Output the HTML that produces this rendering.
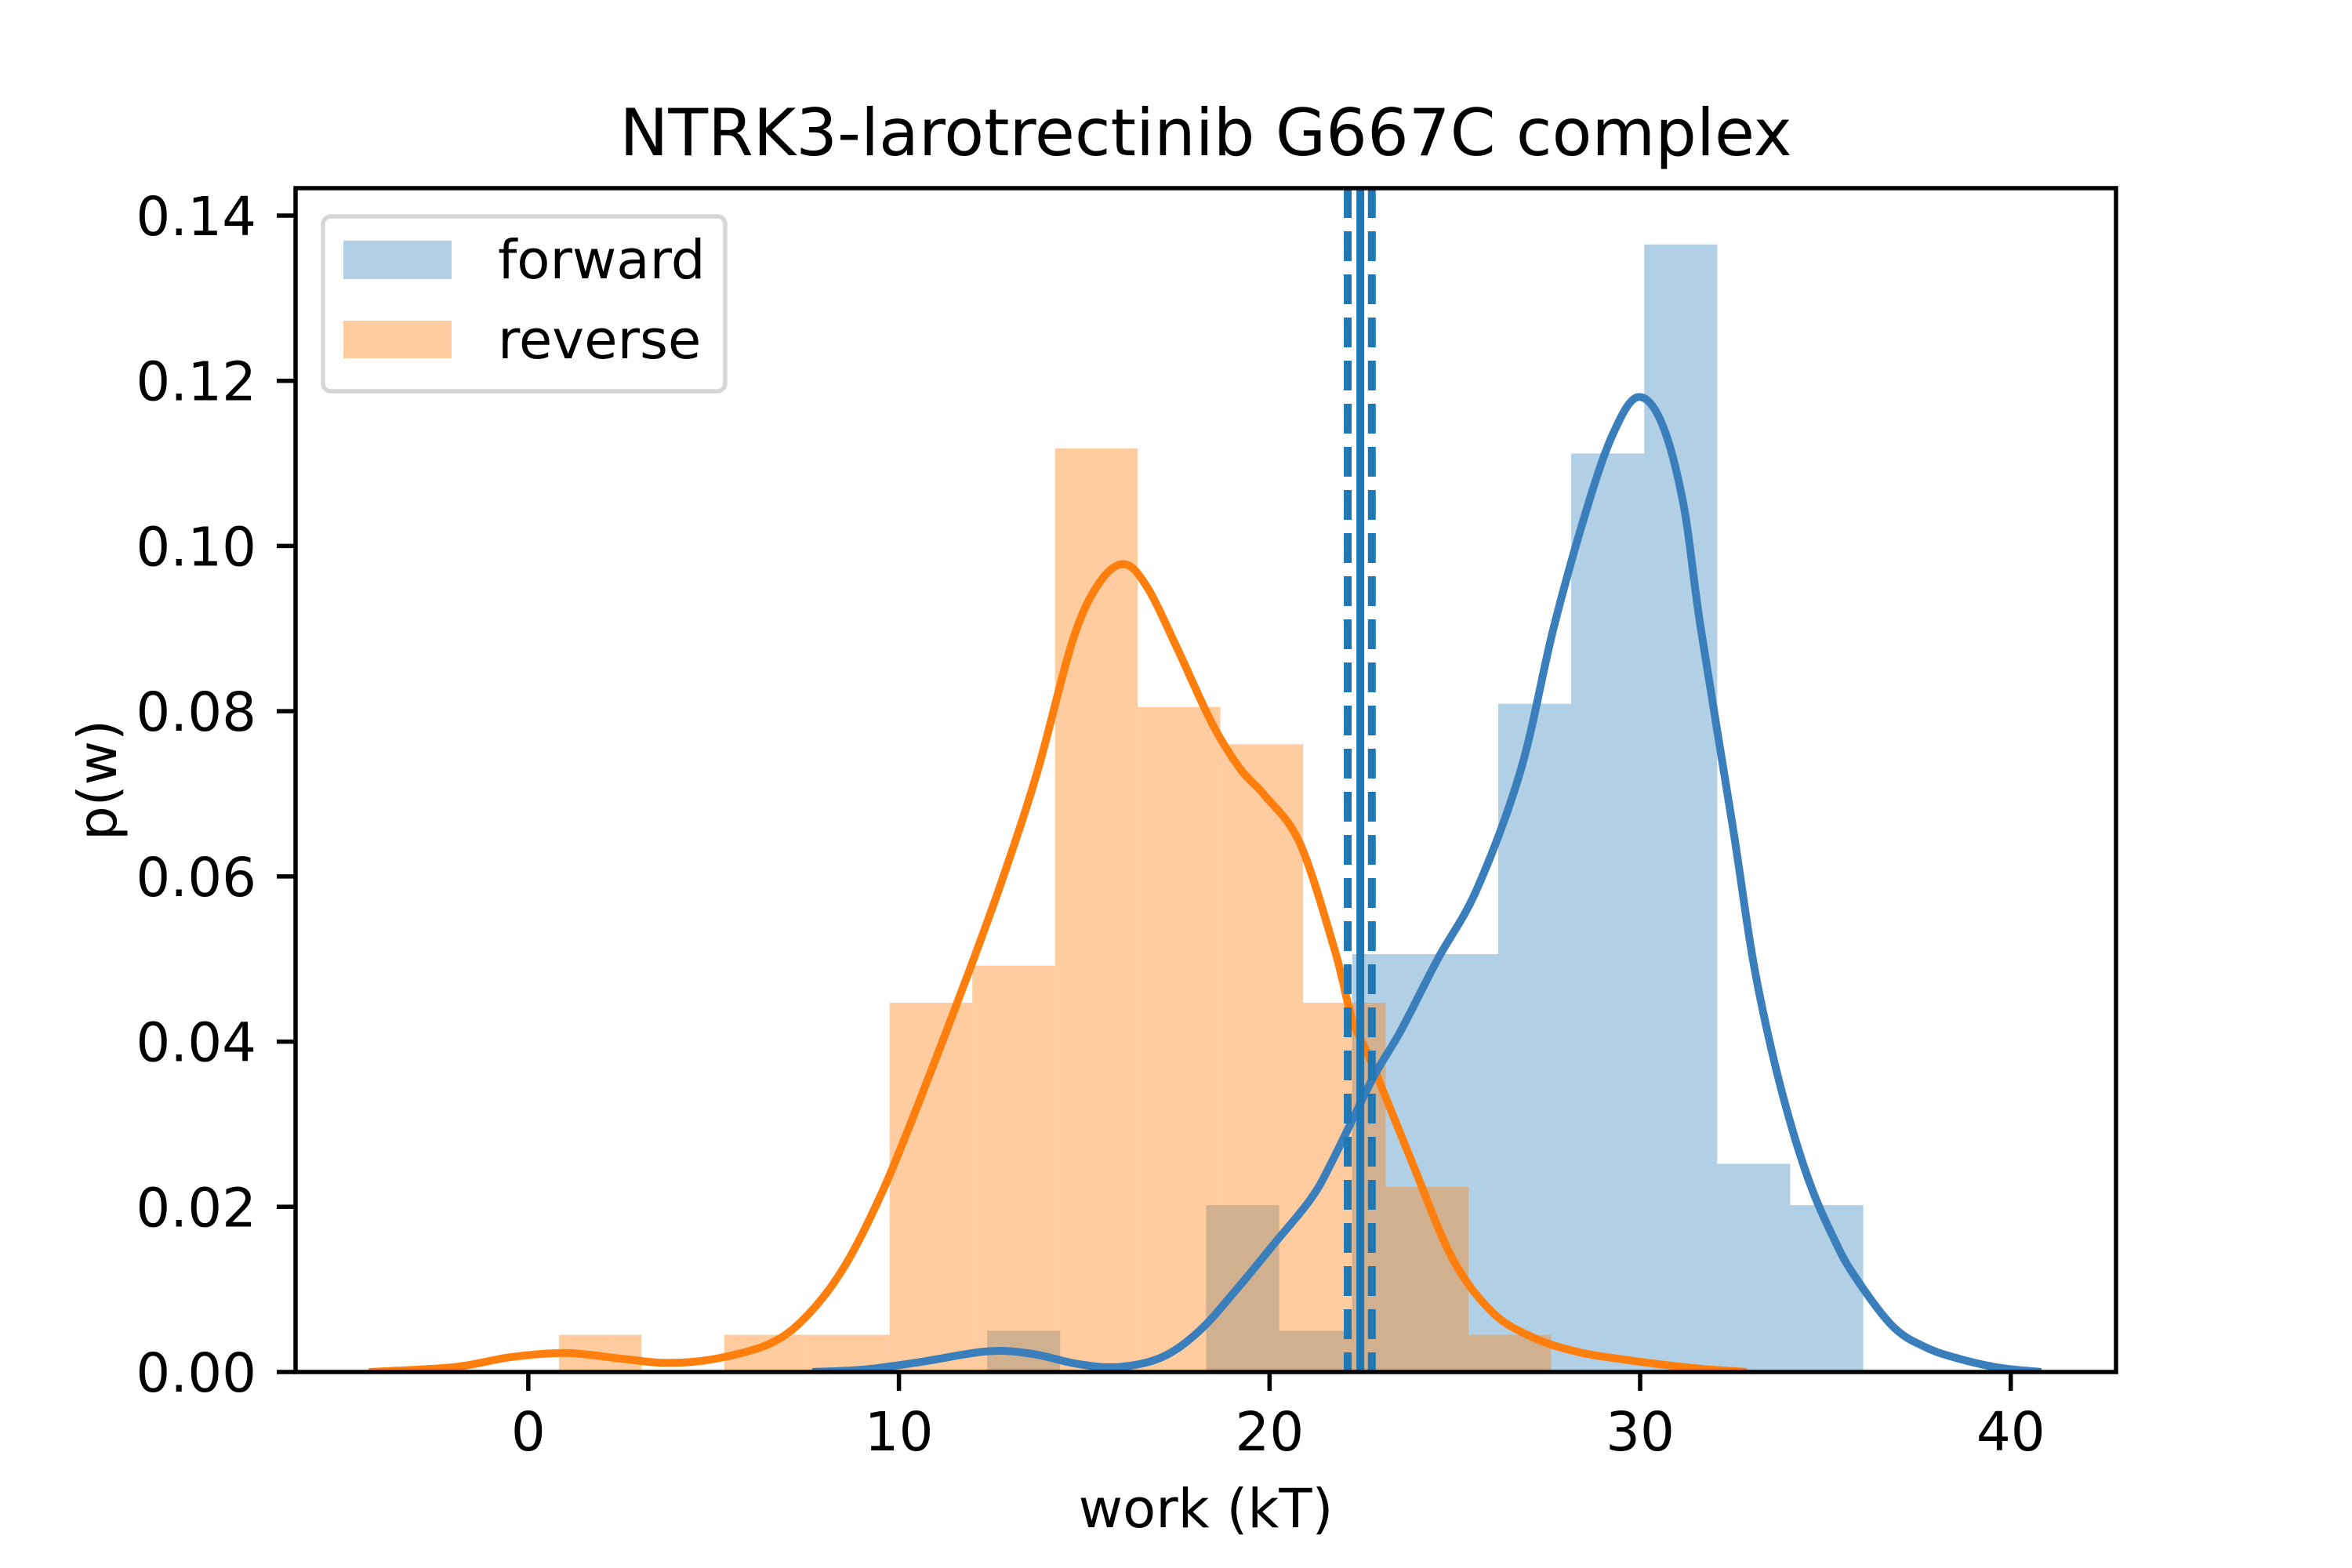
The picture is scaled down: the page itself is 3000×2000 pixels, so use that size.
<!DOCTYPE html>
<html><head><meta charset="utf-8"><style>
html,body{margin:0;padding:0;background:#fff;}
svg{display:block;font-family:"DejaVu Sans","Liberation Sans",sans-serif;}
</style></head><body>
<svg id="chart" width="3000" height="2000" viewBox="0 0 3000 2000" xmlns="http://www.w3.org/2000/svg">
<rect width="3000" height="2000" fill="#fff"/>
<g id="plot"></g>
</svg>
<script>
const fwdStart = 12.38, fwdWidth = 1.97;
const fwdValues = [0.005, 0, 0, 0.0202, 0.005, 0.0506, 0.0506, 0.0809, 0.1112, 0.1365, 0.0252, 0.0202];
const revStart = 0.825, revWidth = 2.231;
const revValues = [0.0045, 0, 0.0045, 0.0045, 0.0447, 0.0492, 0.1118, 0.0805, 0.076, 0.0447, 0.0224, 0.0045];
const fwdKdeX = [7.66,9.07,10.57,12.38,13.59,14.79,15.9,17.1,18.11,19.11,20.12,21.12,21.71,22.78,23.54,24.54,25.6,26.78,27.66,28.56,29.26,29.92,30.57,31.17,31.63,32.5,33.04,33.57,34.13,34.65,35.19,35.73,36.8,37.7,38.61,39.71,40.82];
const fwdKdeY = [0,0.0003,0.0012,0.0025,0.0022,0.001,0.0006,0.0018,0.005,0.01,0.0155,0.021,0.0257,0.0355,0.0413,0.05,0.0585,0.0729,0.090,0.1045,0.1135,0.118,0.115,0.105,0.0902,0.066,0.05,0.0385,0.029,0.022,0.0165,0.012,0.0056,0.003,0.0016,0.0005,0];
const revKdeX = [-4.3,-1.99,-0.48,1.03,2.53,3.74,5.05,6.55,7.56,8.56,9.57,10.57,11.85,12.78,13.73,14.69,15.4,16.08,16.7,17.51,18.45,19.21,19.87,20.82,21.77,22.23,22.78,23.87,24.94,26.02,27.1,28.16,29.26,31.37,32.88];
const revKdeY = [0,0.0006,0.0018,0.0023,0.0016,0.0011,0.0016,0.0035,0.007,0.013,0.022,0.033,0.048,0.0595,0.0726,0.0886,0.0955,0.0978,0.095,0.0876,0.0785,0.073,0.0698,0.064,0.0509,0.0427,0.0372,0.0251,0.0137,0.0072,0.0042,0.0026,0.0017,0.0005,0];
const vlineSolid = 22.45;
const vlineDashed = [22.11, 22.76];
const xTicks = [0, 10, 20, 30, 40];
const yTicks = [0, 0.02, 0.04, 0.06, 0.08, 0.10, 0.12, 0.14];
const yTickLabels = ["0.00","0.02","0.04","0.06","0.08","0.10","0.12","0.14"];

const L=377,R=2699,T=240,B=1750;
const xMin=-6.28,xMax=42.84,yMax=0.14332;
const sx=v=>L+(v-xMin)/(xMax-xMin)*(R-L);
const sy=v=>B-v/yMax*(B-T);
const NS="http://www.w3.org/2000/svg";
const g=document.getElementById('plot');
function mk(tag,attrs,parent){const e=document.createElementNS(NS,tag);for(const k in attrs)e.setAttribute(k,attrs[k]);(parent||g).appendChild(e);return e;}

const clip=mk('clipPath',{id:'ax'});mk('rect',{x:L,y:T,width:R-L,height:B-T},clip);
const inner=mk('g',{'clip-path':'url(#ax)'});



fwdValues.forEach((v,i)=>{ if(v<=0)return;
  const x0=sx(fwdStart+i*fwdWidth),x1=sx(fwdStart+(i+1)*fwdWidth);
  const r=mk('rect',{x:x0,y:sy(v),width:x1-x0,height:B-sy(v),fill:'#1f77b4','fill-opacity':0.35},inner);
  
  
});
revValues.forEach((v,i)=>{ if(v<=0)return;
  const x0=sx(revStart+i*revWidth),x1=sx(revStart+(i+1)*revWidth);
  const r=mk('rect',{x:x0,y:sy(v),width:x1-x0,height:B-sy(v),fill:'#ff7f0e','fill-opacity':0.4},inner);
  
  
});
function smooth(xs,ys){
  const p=xs.map((x,i)=>[sx(x),sy(ys[i])]);
  let d='M'+p[0][0]+','+p[0][1];
  for(let i=0;i<p.length-1;i++){
    const p0=p[Math.max(0,i-1)],p1=p[i],p2=p[i+1],p3=p[Math.min(p.length-1,i+2)];
    const c1=[p1[0]+(p2[0]-p0[0])/6,p1[1]+(p2[1]-p0[1])/6];
    const c2=[p2[0]-(p3[0]-p1[0])/6,p2[1]-(p3[1]-p1[1])/6];
    d+=' C'+c1+' '+c2+' '+p2;
  }
  return d;
}
const kr=mk('path',{d:smooth(revKdeX,revKdeY),fill:'none',stroke:'#ff7f0e','stroke-width':10,'stroke-linejoin':'round'},inner);


const kf=mk('path',{d:smooth(fwdKdeX,fwdKdeY),fill:'none',stroke:'#3a7ebb','stroke-width':10,'stroke-linejoin':'round'},inner);



const vs=mk('line',{x1:sx(vlineSolid),x2:sx(vlineSolid),y1:T,y2:B,stroke:'#1f77b4','stroke-width':10},inner);


vlineDashed.forEach(v=>{
  const l=mk('line',{x1:sx(v),x2:sx(v),y1:T,y2:B,stroke:'#1f77b4','stroke-width':10,'stroke-dasharray':'38 17'},inner);
  
  
});

const frame=mk('rect',{x:L,y:T,width:R-L,height:B-T,fill:'none',stroke:'#000','stroke-width':5.5});



xTicks.forEach(v=>{
  const x=sx(v);
  const t=mk('line',{x1:x,x2:x,y1:B,y2:B+24,stroke:'#000','stroke-width':5.5});
  
  
  const tx=mk('text',{x:x,y:1850,'font-size':69,'text-anchor':'middle',fill:'#000'});
  tx.textContent=String(v);
  
  
});
yTicks.forEach((v,i)=>{
  const y=sy(v);
  const t=mk('line',{x1:L-24,x2:L,y1:y,y2:y,stroke:'#000','stroke-width':5.5});
  
  
  const tx=mk('text',{x:327,y:y+25,'font-size':69,'text-anchor':'end',fill:'#000'});
  tx.textContent=yTickLabels[i];
  
  
});

const title=mk('text',{x:(L+R)/2,y:198,'font-size':83,'text-anchor':'middle',fill:'#000'});
title.textContent='NTRK3-larotrectinib G667C complex';


const xl=mk('text',{x:(L+R)/2,y:1948,'font-size':69,'text-anchor':'middle',fill:'#000'});
xl.textContent='work (kT)';


const yl=mk('text',{x:0,y:0,'font-size':69,'text-anchor':'middle',fill:'#000',transform:'translate(148,'+((T+B)/2)+') rotate(-90)'});
yl.textContent='p(w)';



const lg=mk('g',{});


mk('rect',{x:412,y:276,width:513,height:223,rx:10,fill:'#fff','fill-opacity':0.8,stroke:'#d6d6d6','stroke-width':5.5},lg);
const p1=mk('rect',{x:438,y:307,width:138,height:49,fill:'#1f77b4','fill-opacity':0.35},lg);


const p2=mk('rect',{x:438,y:409,width:138,height:48,fill:'#ff7f0e','fill-opacity':0.4},lg);


const t1=mk('text',{x:635,y:355,'font-size':69,fill:'#000'},lg);
t1.textContent='forward';


const t2=mk('text',{x:635,y:457,'font-size':69,fill:'#000'},lg);
t2.textContent='reverse';


</script>
</body></html>
